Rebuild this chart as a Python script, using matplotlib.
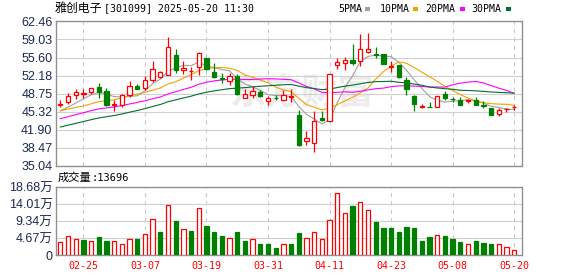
import numpy as np
import matplotlib
matplotlib.use("Agg")
import matplotlib.pyplot as plt
from matplotlib.patches import Rectangle

W, H = 578, 276

stock_name = "雅创电子"
stock_info = "[301099] 2025-05-20 11:30"
vol_title = "成交量"
vol_last = ":13696"
ma_names = ["5PMA", "10PMA", "20PMA", "30PMA"]
ma_windows = [5, 10, 20, 30]
watermark = "东方财富"

date_ticks = [3, 11, 19, 27, 35, 43, 51, 59]
date_labels = ["02-25", "03-07", "03-19", "03-31", "04-11", "04-23", "05-08", "05-20"]

price_ticks = [35.04, 38.47, 41.90, 45.32, 48.75, 52.18, 55.60, 59.03, 62.46]
price_tick_labels = ["35.04", "38.47", "41.90", "45.32", "48.75", "52.18", "55.60", "59.03", "62.46"]
vol_ticks = [0, 4.67, 9.34, 14.01, 18.68]
vol_tick_labels = ["0", "4.67万", "9.34万", "14.01万", "18.68万"]

# closes before the visible window (estimated, only feed the moving averages)
prior_close = [38.0, 38.4, 38.8, 39.0, 39.3, 39.5, 39.7, 40.0, 40.0, 40.2,
               40.6, 41.2, 41.5, 42.0, 42.3, 42.8, 43.2, 43.5, 43.9, 44.0,
               45.0, 45.8, 46.2, 45.6, 44.9, 44.74, 45.23, 44.8, 45.93]

open_p = [46.51, 47.14, 48.40, 48.74, 49.15, 50.03, 49.21, 46.58, 46.51, 48.46,
          50.22, 49.90, 51.29, 51.91, 52.23, 56.06, 53.29, 52.98, 53.73, 55.50,
          52.79, 51.66, 51.16, 52.10, 47.90, 48.40, 49.15, 47.27, 48.00, 47.52,
          48.15, 44.76, 39.86, 39.42, 44.13, 43.63, 54.17, 54.49, 55.18, 54.99,
          56.56, 56.18, 56.18, 53.80, 54.17, 51.29, 48.34, 46.26, 46.26, 46.20,
          48.59, 47.83, 47.64, 47.33, 47.64, 46.64, 46.01, 44.88, 45.76, 46.14]
high_p = [47.58, 48.90, 49.65, 49.65, 49.80, 50.78, 49.84, 47.58, 48.77, 51.22,
          50.53, 52.10, 54.93, 53.04, 59.45, 57.12, 54.93, 53.86, 56.68, 55.60,
          54.49, 52.60, 52.60, 52.54, 49.65, 50.28, 49.50, 48.21, 48.52, 49.40,
          49.59, 45.64, 41.74, 45.51, 45.38, 52.42, 55.43, 55.74, 58.13, 60.14,
          60.26, 57.50, 56.20, 54.99, 54.20, 51.91, 48.52, 46.77, 47.14, 48.34,
          49.28, 48.15, 48.15, 47.58, 48.15, 47.39, 46.01, 46.01, 45.95, 46.58]
low_p = [46.26, 46.77, 47.77, 47.90, 48.65, 48.02, 46.33, 45.51, 46.20, 48.15,
         49.72, 49.40, 50.97, 51.66, 52.23, 52.73, 52.42, 51.29, 52.29, 53.20,
         51.66, 50.72, 50.41, 48.52, 47.90, 48.02, 48.08, 46.51, 47.58, 47.39,
         47.14, 38.79, 39.10, 37.73, 43.63, 43.63, 53.42, 53.23, 54.17, 54.05,
         56.37, 55.43, 54.30, 52.79, 51.66, 48.52, 45.51, 46.01, 46.20, 46.20,
         47.58, 47.14, 46.51, 46.95, 46.51, 46.01, 44.76, 44.44, 45.26, 45.70]
close_p = [46.77, 48.27, 49.03, 48.80, 49.78, 49.03, 46.51, 46.83, 48.46, 50.22,
           49.72, 51.35, 53.42, 52.79, 57.50, 53.23, 53.55, 53.10, 56.37, 53.50,
           51.98, 51.54, 52.04, 48.72, 48.68, 49.21, 48.21, 47.95, 47.92, 48.52,
           48.34, 38.98, 40.36, 43.63, 43.70, 52.42, 54.80, 55.18, 54.61, 57.19,
           57.25, 55.99, 54.42, 53.92, 51.91, 49.72, 46.77, 46.39, 46.20, 48.34,
           48.02, 47.71, 46.64, 47.46, 46.64, 46.33, 44.76, 45.57, 45.89, 46.26]
# volume in 万 (10k shares)
volume = [3.66, 5.27, 4.46, 4.02, 3.93, 4.82, 3.75, 3.75, 3.13, 4.46,
          4.29, 5.80, 9.82, 6.43, 13.84, 9.38, 7.14, 6.70, 13.04, 8.04,
          6.43, 5.09, 4.73, 6.43, 3.75, 4.46, 2.95, 2.95, 1.88, 2.95,
          2.95, 6.16, 4.73, 6.34, 4.46, 9.55, 17.05, 11.43, 13.39, 14.64,
          12.23, 9.11, 7.50, 7.50, 6.43, 7.77, 7.50, 3.75, 4.82, 5.54,
          5.09, 4.29, 3.48, 3.13, 3.75, 3.30, 2.95, 3.13, 2.32, 1.37]

UP = "#ff0000"
DOWN = "#008000"
MA_COLORS = ["#a0a0a0", "#f2a200", "#ff00ff", "#006d33"]
LABEL_COLOR = "#1c2a52"
SPINE = "#909090"
GRID = "#d0d0d0"

plt.rcParams["font.family"] = ["Liberation Sans", "Noto Sans CJK SC"]

fig = plt.figure(figsize=(W / 100, H / 100), dpi=100)
fig.patch.set_facecolor("white")


def fx(px):
    return px / W


def fy(py):
    return 1 - py / H


x_left, x_right = 56.0, 521.5
main_top, main_bot = 21.3, 166.0
vol_top, vol_bot = 187.0, 255.0

ax = fig.add_axes([fx(x_left), fy(main_bot), fx(x_right - x_left), (main_bot - main_top) / H])
axv = fig.add_axes([fx(x_left), fy(vol_bot), fx(x_right - x_left), (vol_bot - vol_top) / H])

n = len(close_p)
x = np.arange(n)
o = np.array(open_p)
h = np.array(high_p)
l = np.array(low_p)
c = np.array(close_p)
v = np.array(volume)

xlim = (-0.56, 59.95)

# ---- price axes ----
ax.text(31.5, 48.9, watermark, fontsize=26, color="#ececec", ha="center", va="center",
        family=["Noto Sans CJK SC"], fontweight="bold", zorder=0)

full = np.array(prior_close + close_p)
P = len(prior_close)
for win, col in zip(ma_windows, MA_COLORS):
    ma = np.array([full[P + i - win + 1:P + i + 1].mean() for i in range(n)])
    ax.plot(x, ma, color=col, lw=0.8, zorder=2)

up = c >= o
ccol = np.where(up, UP, DOWN)
ax.vlines(x, l, h, colors=ccol, lw=0.9, zorder=3)
ax.bar(x, np.abs(c - o), bottom=np.minimum(o, c), width=0.56,
       color=np.where(up, "white", DOWN), edgecolor=ccol, linewidth=0.9, zorder=4)

ax.set_xlim(*xlim)
ax.set_ylim(price_ticks[0], price_ticks[-1])
ax.set_yticks(price_ticks)
ax.set_yticklabels(price_tick_labels, fontsize=9, color=LABEL_COLOR)
ax.set_xticks(date_ticks)
ax.set_xticklabels([])
ax.tick_params(length=0, pad=2.5)
ax.grid(axis="y", color=GRID, lw=0.8, zorder=1)
for t in date_ticks:
    ax.axvline(t, color="#c8c8c8", lw=0.75, ls=(0, (4, 4)), zorder=1)
for s in ax.spines.values():
    s.set_color(SPINE)
    s.set_linewidth(1.0)

# ---- volume axes ----
prev = np.concatenate([[prior_close[-1]], c[:-1]])
vup = c >= prev
axv.bar(x, v, width=0.56, color=np.where(vup, "white", DOWN),
        edgecolor=np.where(vup, UP, DOWN), linewidth=0.9, zorder=3)
axv.set_xlim(*xlim)
axv.set_ylim(vol_ticks[0], vol_ticks[-1])
axv.set_yticks(vol_ticks)
axv.set_yticklabels(vol_tick_labels, fontsize=9, color=LABEL_COLOR)
axv.set_xticks(date_ticks)
axv.set_xticklabels(date_labels, fontsize=7.2, color=UP, family=["DejaVu Sans Mono"])
axv.tick_params(length=0)
axv.tick_params(axis="y", pad=2.5)
axv.tick_params(axis="x", pad=4.3)
axv.grid(axis="y", color=GRID, lw=0.8, zorder=1)
for t in date_ticks:
    axv.axvline(t, color="#c8c8c8", lw=0.75, ls=(0, (4, 4)), zorder=1)
for s in axv.spines.values():
    s.set_color(SPINE)
    s.set_linewidth(1.0)

# ---- header texts ----
fig.text(fx(55), fy(8.5), stock_name, fontsize=8.6, family=["Noto Sans CJK SC"],
         ha="left", va="center", color="black")
fig.text(fx(104), fy(8.5), stock_info, fontsize=7.1, family=["DejaVu Sans Mono"],
         ha="left", va="center", color="black")

leg_text_x = [338.3, 380.0, 425.7, 471.7]
leg_box_x = [365.0, 413.0, 460.0, 505.5]
for name, col, tx, bx in zip(ma_names, MA_COLORS, leg_text_x, leg_box_x):
    fig.text(fx(tx), fy(8.7), name, fontsize=7.1, family=["DejaVu Sans Mono"],
             ha="left", va="center", color="black")
    fig.patches.append(Rectangle((fx(bx), fy(11.0)), 5 / W, 4 / H, transform=fig.transFigure,
                                 facecolor=col, edgecolor="none"))

fig.text(fx(57.3), fy(177.7), vol_title, fontsize=8.1, family=["Noto Sans CJK SC"],
         ha="left", va="center", color="black")
fig.text(fx(91.3), fy(177.7), vol_last, fontsize=7.5, family=["DejaVu Sans Mono"],
         ha="left", va="center", color="black")

fig.savefig("out.png", dpi=100, facecolor="white")
